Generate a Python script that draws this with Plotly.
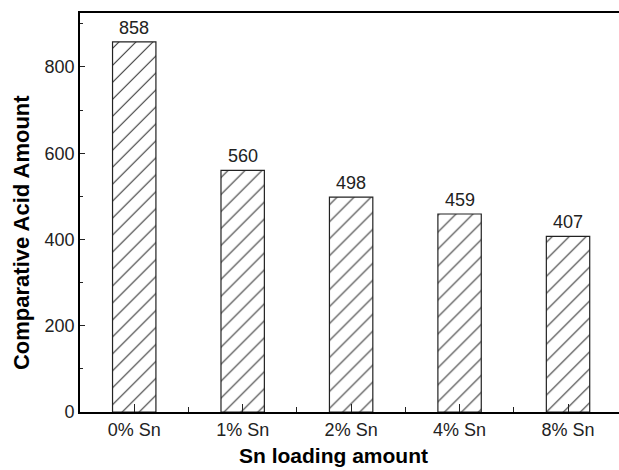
import plotly.graph_objects as go

# Sn loading levels and their comparative acid amounts
categories = ["0% Sn", "1% Sn", "2% Sn", "4% Sn", "8% Sn"]
acid_amount = [858, 560, 498, 459, 407]
y_ticks = [0, 200, 400, 600, 800]

positions = list(range(len(categories)))
FONT = "Liberation Sans, Arial, Helvetica, sans-serif"

fig = go.Figure()
fig.add_trace(go.Bar(
    x=positions,
    y=acid_amount,
    width=0.4,
    marker=dict(
        color="white",
        line=dict(color="#222222", width=1.2),
        pattern=dict(shape="/", fgcolor="#333333", size=12,
                     solidity=0.09, fillmode="replace"),
    ),
    showlegend=False,
    hoverinfo="skip",
))

# value labels above each bar
for xi, v in zip(positions, acid_amount):
    fig.add_annotation(x=xi, y=v, text=str(v), showarrow=False,
                       yanchor="bottom", yshift=2,
                       font=dict(family=FONT, size=18, color="#222222"))

# axis titles
fig.add_annotation(xref="paper", yref="paper", x=0.471, y=-0.11,
                   text="<b>Sn loading amount</b>", showarrow=False,
                   xanchor="center", yanchor="middle",
                   font=dict(family=FONT, size=21, color="black"))
fig.add_annotation(xref="paper", yref="paper", x=-0.1095, y=0.451,
                   text="<b>Comparative Acid Amount</b>", showarrow=False,
                   textangle=-90, xanchor="center", yanchor="middle",
                   font=dict(family=FONT, size=22, color="black"))

fig.update_layout(
    width=619, height=470,
    margin=dict(l=80, r=0, t=13, b=58, pad=0),
    plot_bgcolor="white", paper_bgcolor="white",
    font=dict(family=FONT, size=18, color="#222222"),
    xaxis=dict(
        range=[-0.5, 4.47],
        tickmode="array", tickvals=positions, ticktext=categories,
        ticks="inside", ticklen=8, tickwidth=1.2, tickcolor="#222222",
        showline=True, linecolor="black", linewidth=1.8, mirror=True,
        showgrid=False, zeroline=False,
        minor=dict(tickvals=[0.5, 1.5, 2.5, 3.5], ticks="inside",
                   ticklen=5, tickwidth=1.2, tickcolor="#222222"),
        tickfont=dict(family=FONT, size=18, color="#222222"),
    ),
    yaxis=dict(
        range=[0, 925],
        tickmode="array", tickvals=y_ticks,
        ticks="inside", ticklen=5, tickwidth=1.2, tickcolor="#222222",
        showline=True, linecolor="black", linewidth=1.8,
        showgrid=False, zeroline=False,
        minor=dict(dtick=100, tick0=100, ticks="inside",
                   ticklen=3, tickwidth=1.2, tickcolor="#222222"),
        tickfont=dict(family=FONT, size=18, color="#222222"),
    ),
)

fig.write_html("out.html")
